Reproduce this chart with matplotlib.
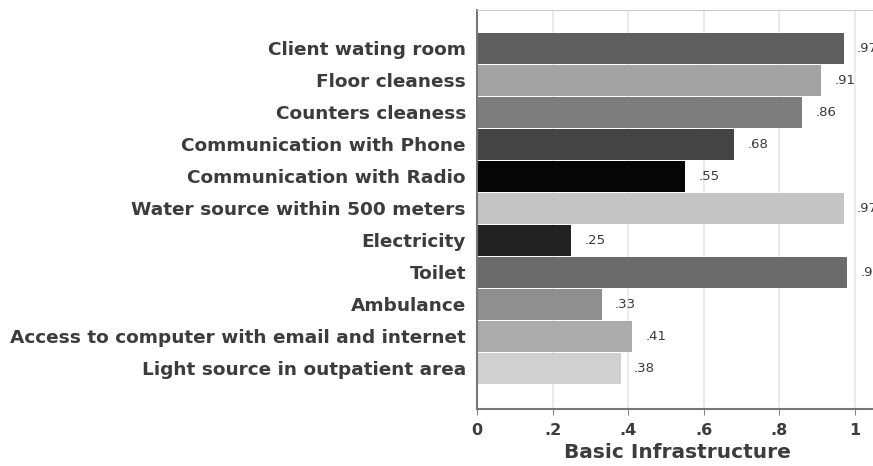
import matplotlib
matplotlib.use("Agg")
import matplotlib.pyplot as plt

categories = [
    "Client wating room",
    "Floor cleaness",
    "Counters cleaness",
    "Communication with Phone",
    "Communication with Radio",
    "Water source within 500 meters",
    "Electricity",
    "Toilet",
    "Ambulance",
    "Access to computer with email and internet",
    "Light source in outpatient area",
]
values = [0.97, 0.91, 0.86, 0.68, 0.55, 0.97, 0.25, 0.98, 0.33, 0.41, 0.38]
value_labels = [".97", ".91", ".86", ".68", ".55", ".97", ".25", ".98", ".33", ".41", ".38"]
colors = ["#5e5e5e", "#a3a3a3", "#7d7d7d", "#444444", "#050505", "#c4c4c4",
          "#222222", "#6b6b6b", "#8f8f8f", "#ababab", "#d0d0d0"]
xticks = [0, 0.2, 0.4, 0.6, 0.8, 1.0]
xtick_labels = ["0", ".2", ".4", ".6", ".8", "1"]

plt.rcParams['font.family'] = ['DejaVu Sans']

fig = plt.figure(figsize=(8.73, 4.66), dpi=100)
x_max = 1.063
ax = fig.add_axes([477/873, 1-409/466, 378*x_max/873, (409-10)/466])

ypos = list(range(len(categories)))
ax.barh(ypos, values, height=0.97, color=colors, zorder=2)
for y, v, lab in zip(ypos, values, value_labels):
    ax.text(v + 0.035, y, lab, va='center', ha='left', fontsize=9.5, color='#3a3a3a')

ax.set_ylim(11.28, -1.19)
ax.set_xlim(0, x_max)
ax.set_yticks(ypos)
ax.set_yticklabels(categories, fontsize=13.3, color='#3c3c3c', fontweight='bold')
ax.tick_params(axis='y', length=0, pad=8)
ax.set_xticks(xticks)
ax.set_xticklabels(xtick_labels, fontsize=11.5, color='#3c3c3c', fontweight='bold')
ax.tick_params(axis='x', length=4, color='#888888', pad=6)
ax.set_xlabel("Basic Infrastructure", fontsize=14.5, color='#3c3c3c', fontweight='bold', labelpad=4)
ax.grid(axis='x', color='#e6e6e6', linewidth=1.2, zorder=0)
ax.set_axisbelow(True)
for s in ['left', 'bottom']:
    ax.spines[s].set_color('#777777')
    ax.spines[s].set_linewidth(1.5)
ax.spines['top'].set_color('#cccccc')
ax.spines['right'].set_visible(False)

fig.savefig("out.png", dpi=100)
